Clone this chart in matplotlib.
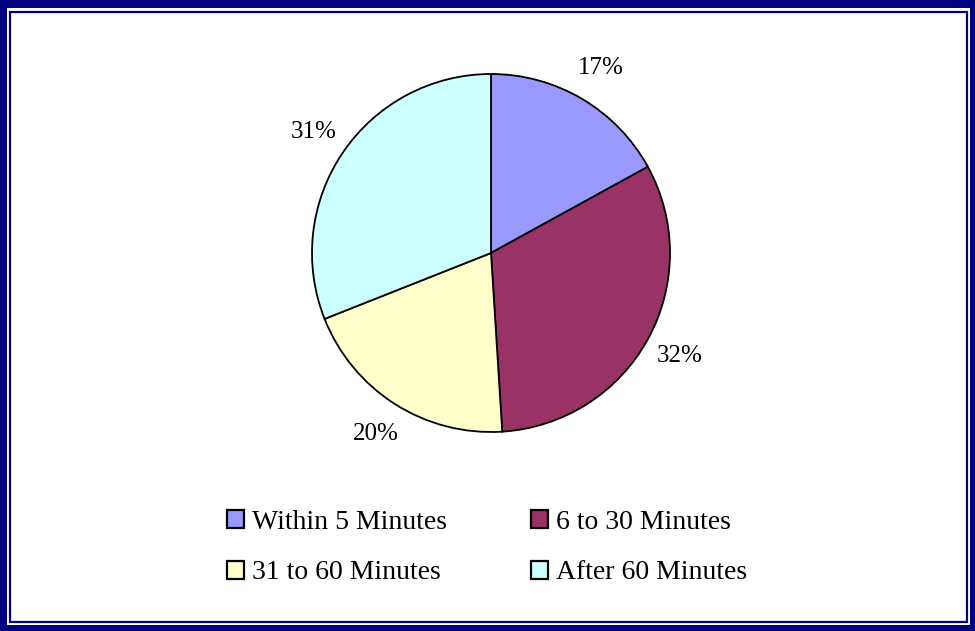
import matplotlib
matplotlib.use("Agg")
import matplotlib.pyplot as plt
from matplotlib.patches import Rectangle, Patch

categories = ["Within 5 Minutes", "6 to 30 Minutes", "31 to 60 Minutes", "After 60 Minutes"]
values = [17, 32, 20, 31]
colors = ["#9999FF", "#993366", "#FFFFCC", "#CCFFFF"]

plt.rcParams["font.family"] = ["Liberation Serif", "DejaVu Serif"]

W, H = 975, 631
fig = plt.figure(figsize=(W / 100, H / 100), dpi=100)
fig.patch.set_facecolor("white")

def px_rect(x0, y0, x1, y1, **kw):
    # rectangle given in pixel coordinates measured from the top-left corner
    return Rectangle((x0 / W, 1 - y1 / H), (x1 - x0) / W, (y1 - y0) / H,
                     transform=fig.transFigure, **kw)

# double navy frame
fig.patches.append(px_rect(0, 0, W, H, facecolor="#000080", edgecolor="none", zorder=-3))
fig.patches.append(px_rect(7, 8, W - 5, H - 6, facecolor="white", edgecolor="none", zorder=-2))
fig.patches.append(px_rect(10, 11.5, W - 8, H - 9, facecolor="none", edgecolor="#000080",
                           linewidth=1.6, zorder=-1))

# pie
cx, cy, r = 491, 253, 179
ax = fig.add_axes([(cx - r) / W, 1 - (cy + r) / H, 2 * r / W, 2 * r / H])
ax.set_zorder(2)
wedges, texts, autotexts = ax.pie(
    values, colors=colors, startangle=90, counterclock=False,
    autopct=lambda p: f"{p:.0f}%", pctdistance=1.2,
    wedgeprops=dict(edgecolor="black", linewidth=1.3),
    textprops=dict(fontsize=18, color="black"),
)
ax.set_xlim(-1, 1)
ax.set_ylim(-1, 1)
ax.set_aspect("equal")
ax.axis("off")

# legend filled row by row: reorder for matplotlib's column-major layout
order = [0, 2, 1, 3]
handles = [Patch(facecolor=colors[i], edgecolor="black", linewidth=1.6) for i in order]
labels = [categories[i] for i in order]
leg = fig.legend(handles, labels, ncol=2, loc="center",
                 bbox_to_anchor=(487 / W, 1 - 547.5 / H), frameon=False,
                 fontsize=20, handlelength=0.62, handleheight=0.62,
                 handletextpad=0.3, columnspacing=3.0, labelspacing=0.92)
leg.set_zorder(3)

fig.savefig("out.png", dpi=100)
